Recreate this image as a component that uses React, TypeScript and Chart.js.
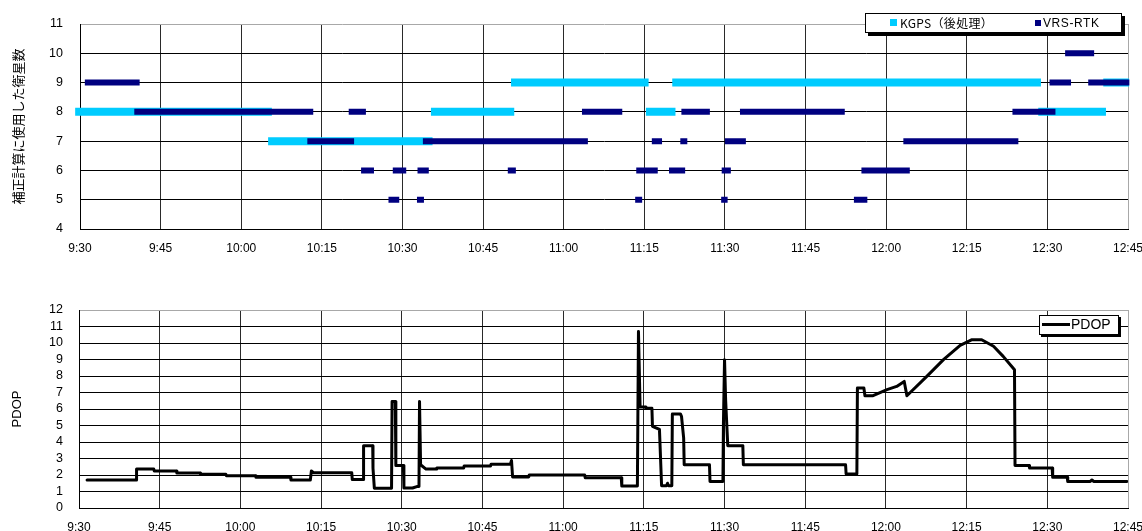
import React, { useEffect, useRef } from "react";
import { Chart, registerables } from "chart.js";

Chart.register(...registerables);

// x axis: minutes elapsed since 9:30
const timeLabels = ["9:30", "9:45", "10:00", "10:15", "10:30", "10:45", "11:00", "11:15", "11:30", "11:45", "12:00", "12:15", "12:30", "12:45"];
const satTicks = [4, 5, 6, 7, 8, 9, 10, 11];
const pdopTicks = [0, 1, 2, 3, 4, 5, 6, 7, 8, 9, 10, 11, 12];

// KGPS (post-processing) satellite count segments
const kgpsStart = [-0.9, 35.0, 65.3, 80.2, 105.3, 110.2, 178.3, 190.4];
const kgpsEnd = [35.7, 65.6, 80.8, 105.8, 110.8, 178.8, 190.9, 195.2];
const kgpsSats = [8, 7, 8, 9, 8, 9, 8, 9];

// VRS-RTK satellite count segments
const vrsStart = [0.9, 10.1, 50.0, 42.3, 52.3, 58.2, 57.4, 62.8, 62.7, 63.8, 79.6, 93.4, 103.5, 103.3, 106.4, 111.7, 111.9, 109.6, 122.8, 120.0, 119.4, 119.3, 145.4, 144.0, 153.2, 173.5, 183.3, 180.4, 187.6];
const vrsEnd = [11.1, 43.4, 53.2, 51.0, 54.7, 60.7, 59.4, 64.9, 64.0, 94.5, 81.1, 100.9, 107.5, 104.6, 108.3, 113.0, 117.2, 112.6, 142.3, 123.9, 121.1, 120.5, 154.4, 146.5, 174.6, 181.5, 188.7, 184.4, 195.25];
const vrsSats = [9, 8, 8, 7, 6, 6, 5, 6, 5, 7, 6, 8, 6, 5, 7, 7, 8, 6, 8, 7, 6, 5, 6, 5, 7, 8, 10, 9, 9];

// PDOP series
const pdopTime = [1.5, 10.6, 10.7, 13.9, 14.0, 18.1, 18.2, 22.5, 22.6, 27.3,
  27.4, 32.8, 32.9, 39.3, 39.4, 43.0, 43.2, 43.6, 50.7, 50.8,
  52.8, 52.85, 52.95, 54.6, 54.65, 54.9, 58.1, 58.2, 58.8, 58.9,
  60.3, 60.4, 62.0, 62.8, 63.2, 63.3, 63.5, 64.5, 66.4, 66.5,
  71.5, 71.6, 76.5, 76.6, 80.2, 80.4, 80.6, 83.6, 83.7, 94.0,
  94.1, 100.8, 100.9, 103.8, 104.0, 104.3, 105.3, 105.4, 106.5, 106.6,
  107.9, 108.3, 109.2, 109.4, 109.6, 110.2, 110.3, 111.8, 112.0, 112.4,
  112.5, 117.2, 117.3, 119.7, 119.8, 120.0, 120.2, 120.6, 123.4, 123.5,
  142.5, 142.6, 144.6, 144.7, 145.9, 146.1, 147.5, 150.2, 152.0, 153.4,
  153.9, 157.6, 160.7, 163.8, 166.0, 167.8, 170.0, 171.8, 173.9, 174.0,
  176.6, 176.7, 180.9, 181.0, 183.7, 183.8, 188.0, 188.3, 188.6, 194.8];
const pdopValue = [1.70, 1.70, 2.36, 2.36, 2.24, 2.24, 2.12, 2.12, 2.04, 2.04,
  1.96, 1.96, 1.86, 1.86, 1.70, 1.70, 2.24, 2.14, 2.14, 1.72,
  1.72, 2.76, 3.78, 3.78, 2.42, 1.20, 1.20, 6.46, 6.46, 2.58,
  2.58, 1.21, 1.21, 1.30, 1.30, 6.46, 2.62, 2.36, 2.36, 2.42,
  2.42, 2.55, 2.55, 2.65, 2.65, 2.88, 1.88, 1.88, 2.00, 2.00,
  1.84, 1.84, 1.33, 1.33, 10.7, 6.12, 6.12, 6.04, 6.04, 4.95,
  4.77, 1.35, 1.35, 1.50, 1.35, 1.35, 5.70, 5.70, 5.56, 4.25,
  2.62, 2.62, 1.61, 1.61, 5.25, 8.99, 6.56, 3.78, 3.78, 2.62,
  2.62, 2.06, 2.06, 7.27, 7.27, 6.80, 6.80, 7.17, 7.37, 7.67,
  6.80, 7.98, 8.99, 9.86, 10.2, 10.2, 9.80, 9.19, 8.38, 2.58,
  2.58, 2.42, 2.42, 1.86, 1.86, 1.61, 1.61, 1.70, 1.61, 1.61];

const KGPS_COLOR = "#00CCFF";
const VRS_COLOR = "#000080";
const FONT = '"Liberation Sans", Arial, sans-serif';
const CJK = '"Noto Sans CJK JP", "Noto Sans CJK SC", sans-serif';

function segments(start: number[], end: number[], val: number[]) {
  const out: any[] = [];
  start.forEach((s, i) => {
    out.push({ x: s, y: val[i] }, { x: end[i], y: val[i] }, { x: end[i], y: null });
  });
  return out;
}

function xScale(axisHeight: number) {
  return {
    type: "linear",
    min: 0,
    max: 195,
    ticks: {
      stepSize: 15,
      padding: 12,
      color: "#000",
      maxRotation: 0,
      autoSkip: false,
      font: { family: FONT, size: 12 },
      callback: (v: number) => timeLabels[Math.round(v / 15)] ?? "",
    },
    grid: {
      drawTicks: false,
      lineWidth: 1,
      color: (c: any) => (c.tick && c.tick.value === 195 ? "#a8a8a8" : "#2a2a2a"),
    },
    border: { color: "#000", width: 1 },
    afterFit: (s: any) => {
      s.height = axisHeight;
      s.paddingLeft = 0;
      s.paddingRight = 0;
    },
  };
}

function yScale(ticksArr: number[], width: number, title: string, titleFont: string, pad: number) {
  const top = ticksArr[ticksArr.length - 1];
  return {
    type: "linear",
    min: ticksArr[0],
    max: top,
    ticks: {
      stepSize: 1,
      padding: pad,
      color: "#000",
      autoSkip: false,
      font: { family: FONT, size: 12.5 },
      callback: (v: number) => String(v),
    },
    grid: {
      drawTicks: false,
      lineWidth: 1,
      color: (c: any) => (c.tick && c.tick.value === top ? "#a8a8a8" : "#000"),
    },
    border: { color: "#000", width: 1 },
    title: {
      display: true,
      text: title,
      color: "#000",
      font: { family: titleFont, size: 13 },
      padding: { top: 10, bottom: 0 },
    },
    afterFit: (s: any) => {
      s.width = width;
      s.paddingTop = 0;
      s.paddingBottom = 0;
    },
  };
}

export default function App() {
  const topRef = useRef<HTMLCanvasElement>(null);
  const botRef = useRef<HTMLCanvasElement>(null);

  useEffect(() => {
    const top = new Chart(topRef.current as HTMLCanvasElement, {
      type: "line",
      data: {
        datasets: [
          {
            label: "VRS-RTK",
            data: segments(vrsStart, vrsEnd, vrsSats),
            borderColor: VRS_COLOR,
            backgroundColor: VRS_COLOR,
            borderWidth: 6,
            borderCapStyle: "butt",
            pointRadius: 0,
            spanGaps: false,
            clip: false,
          } as any,
          {
            label: "KGPS（後処理）",
            data: segments(kgpsStart, kgpsEnd, kgpsSats),
            borderColor: KGPS_COLOR,
            backgroundColor: KGPS_COLOR,
            borderWidth: 8,
            borderCapStyle: "butt",
            pointRadius: 0,
            spanGaps: false,
            clip: false,
          } as any,
        ],
      },
      options: {
        responsive: false,
        animation: false,
        layout: { padding: { left: 0, right: 14, top: 24, bottom: 0 } },
        plugins: { legend: { display: false }, tooltip: { enabled: false } },
        scales: {
          x: xScale(33) as any,
          y: yScale(satTicks, 80, "補正計算に使用した衛星数", CJK, 17) as any,
        },
      },
    });

    const bot = new Chart(botRef.current as HTMLCanvasElement, {
      type: "line",
      data: {
        datasets: [
          {
            label: "PDOP",
            data: pdopTime.map((t, i) => ({ x: t, y: pdopValue[i] })),
            borderColor: "#000",
            backgroundColor: "#000",
            borderWidth: 3,
            borderJoinStyle: "round",
            borderCapStyle: "round",
            pointRadius: 0,
            tension: 0,
          } as any,
        ],
      },
      options: {
        responsive: false,
        animation: false,
        layout: { padding: { left: 0, right: 14, top: 45, bottom: 0 } },
        plugins: { legend: { display: false }, tooltip: { enabled: false } },
        scales: {
          x: xScale(23) as any,
          y: yScale(pdopTicks, 79, "PDOP", FONT, 16) as any,
        },
      },
    });

    return () => {
      top.destroy();
      bot.destroy();
    };
  }, []);

  const abs = (o: any) => ({ position: "absolute", ...o } as React.CSSProperties);

  return (
    <div style={abs({ left: 0, top: 0, width: 1142, height: 531, background: "#fff", overflow: "hidden" })}>
      <canvas ref={topRef} width={1142} height={262} style={abs({ left: 0, top: 0, width: 1142, height: 262 })} />
      <canvas ref={botRef} width={1142} height={266} style={abs({ left: 0, top: 265, width: 1142, height: 266 })} />

      {/* top legend */}
      <div style={abs({ left: 865, top: 13, width: 257, height: 20, boxSizing: "border-box", border: "1px solid #000", background: "#fff", boxShadow: "3px 3px 0 #000" })} />
      <div style={abs({ left: 890, top: 19, width: 7, height: 7, background: KGPS_COLOR })} />
      <div style={abs({ left: 900, top: 15, height: 16, lineHeight: "16px", fontFamily: CJK, fontSize: 12, letterSpacing: "0.3px", color: "#000", whiteSpace: "nowrap" })}>KGPS（後処理）</div>
      <div style={abs({ left: 1035, top: 20, width: 6, height: 6, background: VRS_COLOR })} />
      <div style={abs({ left: 1043, top: 15, height: 16, lineHeight: "16px", fontFamily: FONT, fontSize: 12, letterSpacing: "0.6px", color: "#000", whiteSpace: "nowrap" })}>VRS-RTK</div>

      {/* bottom legend */}
      <div style={abs({ left: 1039, top: 315, width: 80, height: 20, boxSizing: "border-box", border: "1px solid #000", background: "#fff", boxShadow: "2px 2px 0 #000" })} />
      <div style={abs({ left: 1042, top: 323, width: 28, height: 3, background: "#000" })} />
      <div style={abs({ left: 1071, top: 316, height: 17, lineHeight: "17px", fontFamily: FONT, fontSize: 14, color: "#000", whiteSpace: "nowrap" })}>PDOP</div>
    </div>
  );
}
